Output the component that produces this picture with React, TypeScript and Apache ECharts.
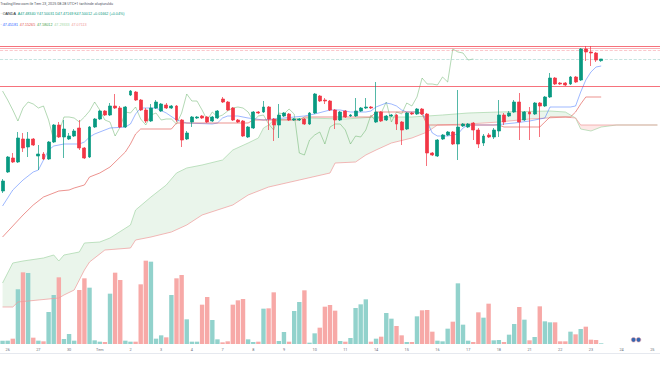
import React, { useEffect, useRef } from 'react';
import * as echarts from 'echarts';

// ---- axis / categories ----
const dayLabels = ['26', '27', '30', 'Tem', '2', '3', '4', '7', '8', '9', '10', '11', '14', '15', '16', '17', '18', '21', '22', '23', '24', '25'];
const barsPerDay = 6;
const firstDaySlot = 1;
const slotCount = 129;

// ---- 4h candles (EUR/TRY) ----
const opens = [
  46.18, 46.37, 46.51, 46.47, 46.70, 46.62, 46.70, 46.53, 46.55, 46.50,
  46.67, 46.84, 46.72, 46.70, 46.73, 46.81, 46.61, 46.52, 46.82, 46.90,
  46.98, 46.94, 47.03, 47.01, 46.82, 47.14, 47.17, 47.09, 46.99, 46.88,
  47.01, 46.98, 47.04, 47.01, 47.03, 46.89, 46.70, 46.87, 46.91, 46.93,
  46.92, 46.88, 46.91, 47.10, 47.07, 47.01, 46.89, 46.88, 46.72, 46.81,
  46.97, 46.97, 47.02, 46.90, 46.84, 46.93, 46.95, 46.89, 46.89, 46.90,
  46.85, 46.96, 47.13, 47.09, 47.08, 46.99, 46.89, 46.98, 46.93, 46.93,
  46.98, 47.01, 47.02, 46.87, 46.97, 46.89, 46.93, 46.94, 46.87, 46.80,
  46.96, 46.95, 47.00, 46.95, 46.56, 46.53, 46.70, 46.74, 46.77, 46.65,
  46.83, 46.82, 46.86, 46.79, 46.66, 46.74, 46.72, 46.78, 46.94, 46.93,
  46.97, 47.07, 46.89, 46.97, 46.95, 47.06, 47.03, 47.12, 47.31, 47.26,
  47.26, 47.25, 47.32, 47.29, 47.60, 47.57, 47.56, 47.4834,
];
const closes = [
  46.28, 46.52, 46.47, 46.71, 46.61, 46.70, 46.64, 46.55, 46.50, 46.67,
  46.84, 46.72, 46.80, 46.73, 46.78, 46.61, 46.51, 46.82, 46.90, 46.98,
  46.94, 47.03, 47.01, 46.82, 47.02, 47.18, 47.09, 46.99, 46.88, 47.01,
  47.07, 47.05, 47.01, 47.03, 46.89, 46.69, 46.76, 46.92, 46.92, 46.91,
  46.87, 46.92, 46.98, 47.07, 46.99, 46.89, 46.87, 46.73, 46.82, 46.97,
  46.96, 47.02, 46.90, 46.84, 46.94, 46.96, 46.89, 46.90, 46.90, 46.85,
  46.96, 47.15, 47.08, 47.08, 46.99, 46.89, 46.97, 46.92, 46.94, 46.98,
  47.01, 47.02, 47.01, 46.97, 46.88, 46.93, 46.94, 46.85, 46.79, 46.96,
  46.95, 47.00, 46.95, 46.56, 46.54, 46.69, 46.74, 46.77, 46.65, 46.82,
  46.85, 46.85, 46.79, 46.65, 46.73, 46.72, 46.79, 46.94, 46.87, 46.96,
  47.07, 46.87, 46.97, 46.95, 47.06, 47.03, 47.12, 47.31, 47.25, 47.25,
  47.24, 47.32, 47.27, 47.60, 47.57, 47.56, 47.49, 47.50012,
];
const highs = [
  46.30, 46.53, 46.56, 46.77, 46.76, 46.77, 46.71, 46.64, 46.57, 46.68,
  46.85, 46.87, 46.89, 46.76, 46.80, 46.89, 46.62, 46.83, 46.91, 46.99,
  46.99, 47.06, 47.15, 47.03, 47.03, 47.19, 47.18, 47.10, 47.01, 47.05,
  47.09, 47.06, 47.06, 47.04, 47.04, 46.90, 46.78, 46.93, 46.93, 46.94,
  46.93, 46.93, 46.99, 47.12, 47.08, 47.02, 46.90, 46.89, 46.83, 46.98,
  46.98, 47.08, 47.03, 46.91, 47.05, 46.97, 46.96, 46.91, 46.91, 46.91,
  46.97, 47.16, 47.14, 47.11, 47.09, 47.00, 46.98, 46.99, 46.95, 47.11,
  47.02, 47.11, 47.03, 47.27, 46.98, 46.94, 46.95, 46.95, 46.88, 46.97,
  46.97, 47.01, 47.01, 46.96, 46.57, 46.70, 46.75, 46.78, 46.78, 47.19,
  46.86, 46.86, 46.87, 46.81, 46.75, 46.76, 46.81, 47.09, 46.96, 46.98,
  47.09, 47.16, 46.98, 47.02, 47.07, 47.07, 47.13, 47.36, 47.32, 47.27,
  47.27, 47.33, 47.33, 47.61, 47.63, 47.63, 47.57, 47.50031,
];
const lows = [
  46.16, 46.36, 46.46, 46.46, 46.57, 46.52, 46.63, 46.39, 46.49, 46.49,
  46.66, 46.71, 46.51, 46.69, 46.72, 46.59, 46.50, 46.51, 46.81, 46.89,
  46.93, 46.93, 47.00, 46.81, 46.81, 47.13, 47.08, 46.98, 46.86, 46.87,
  47.00, 46.97, 47.00, 47.00, 46.87, 46.62, 46.69, 46.82, 46.90, 46.90,
  46.86, 46.87, 46.90, 47.06, 46.98, 46.88, 46.86, 46.72, 46.71, 46.80,
  46.95, 46.96, 46.79, 46.68, 46.71, 46.92, 46.88, 46.88, 46.88, 46.84,
  46.84, 46.95, 47.07, 47.05, 46.98, 46.80, 46.88, 46.91, 46.92, 46.92,
  46.97, 47.00, 47.00, 46.86, 46.87, 46.88, 46.92, 46.79, 46.64, 46.79,
  46.94, 46.94, 46.94, 46.43, 46.53, 46.52, 46.69, 46.73, 46.64, 46.49,
  46.82, 46.81, 46.69, 46.61, 46.63, 46.71, 46.70, 46.72, 46.84, 46.92,
  46.96, 46.69, 46.88, 46.69, 46.94, 46.72, 47.02, 47.11, 47.24, 47.24,
  47.23, 47.24, 47.26, 47.28, 47.48, 47.43, 47.47, 47.47169,
];
const volumes = [
  10, 10, 16, 164, 215, 213, 19, 10, 8, 96,
  147, 200, 15, 30, 10, 162, 197, 169, 11, 7,
  6, 151, 214, 192, 10, 7, 7, 179, 250, 247,
  16, 26, 20, 147, 197, 207, 74, 7, 7, 118,
  141, 72, 14, 5, 8, 118, 131, 135, 14, 6,
  7, 106, 107, 155, 9, 36, 7, 99, 126, 161,
  4, 32, 49, 112, 117, 100, 9, 7, 18, 108,
  119, 134, 7, 16, 22, 93, 76, 54, 26, 6,
  6, 83, 101, 102, 37, 10, 8, 46, 67, 182,
  58, 10, 6, 95, 79, 121, 11, 12, 6, 28,
  60, 111, 73, 11, 21, 113, 68, 65, 65, 8,
  8, 37, 29, 45, 52, 13, 12, 2,
];

// ---- Ichimoku as [bar, price] points ----
const conversionPts = [
  [0, 46.03], [2, 46.19], [4, 46.29], [6, 46.37], [7, 46.39], [8, 46.49], [9, 46.59], [10, 46.63], [12, 46.65],
  [15, 46.65], [16, 46.67], [17, 46.72], [18, 46.75], [19, 46.77], [21, 46.81], [24, 46.82], [25, 46.85],
  [26, 46.95], [27, 47.01], [30, 47.01], [32, 46.96], [34, 46.89], [36, 46.86], [41, 46.85], [42, 46.86],
  [43, 46.91], [44, 46.93], [46, 46.93], [48, 46.91], [51, 46.89], [55, 46.91], [59, 46.93], [61, 46.95],
  [64, 46.99], [66, 46.99], [68, 46.97], [71, 46.97], [72, 46.98], [73, 47.02], [75, 47.06], [76, 47.05],
  [77, 47.03], [78, 46.99], [79, 46.97], [81, 46.97], [82, 46.96], [83, 46.87], [84, 46.76], [85, 46.73],
  [87, 46.73], [89, 46.75], [90, 46.81], [91, 46.84], [96, 46.84], [100, 46.86], [103, 46.88], [106, 46.91],
  [107, 47.02], [111, 47.02], [112, 47.03], [113, 47.17], [114, 47.29], [115, 47.37], [116, 47.42], [117, 47.43],
];
const basePts = [
  [0, 45.72], [2, 45.83], [4, 45.94], [6, 46.04], [8, 46.12], [11, 46.18], [13, 46.19], [14, 46.21], [16, 46.24],
  [17, 46.32], [19, 46.36], [21, 46.42], [23, 46.52], [24, 46.57], [25, 46.65], [26, 46.75], [27, 46.80],
  [33, 46.80], [34, 46.86], [48, 46.86], [49, 46.89], [58, 46.89], [59, 46.92], [72, 46.92], [73, 46.97],
  [81, 46.97], [82, 46.95], [83, 46.84], [97, 46.84], [98, 46.82], [105, 46.82], [106, 46.87], [107, 46.92],
  [111, 46.92], [112, 46.97], [113, 47.05], [114, 47.12], [117, 47.12],
];
const leadAPts = [
  [0, 45.26], [2, 45.46], [4, 45.48], [8, 45.51], [10, 45.54], [11, 45.48], [12, 45.54], [15, 45.57], [16, 45.66],
  [19, 45.67], [21, 45.71], [25, 45.84], [26, 45.99], [29, 46.12], [32, 46.24], [34, 46.36], [36, 46.41],
  [39, 46.44], [43, 46.49], [45, 46.59], [48, 46.66], [50, 46.71], [51, 46.81], [52, 46.84], [53, 46.89],
  [59, 46.91], [67, 46.90], [73, 46.92], [80, 46.92], [86, 46.94], [91, 46.96], [97, 46.97], [107, 46.98],
  [110, 46.97], [112, 46.91], [113, 46.80], [115, 46.78], [117, 46.82], [120, 46.84], [128, 46.84],
];
const leadBPts = [
  [0, 45.02], [2, 45.02], [3, 45.07], [11, 45.11], [12, 45.14], [14, 45.19], [16, 45.39], [17, 45.47], [20, 45.59],
  [25, 45.61], [26, 45.69], [29, 45.72], [33, 45.77], [36, 45.84], [39, 45.94], [45, 46.04], [48, 46.14],
  [52, 46.22], [58, 46.29], [64, 46.36], [65, 46.46], [69, 46.47], [71, 46.54], [73, 46.59], [76, 46.66],
  [80, 46.71], [83, 46.77], [85, 46.84], [91, 46.85], [97, 46.87], [103, 46.90], [110, 46.92], [112, 46.91],
  [113, 46.84], [128, 46.84],
];
const twistBar = 112;
const laggingShift = 25;

// ---- horizontal levels ----
const levelPrices = [47.635, 47.614, 47.585, 47.225];

// ---- legend texts ----
const headerText = 'TradingView.com ile Tem 23, 2025 08:28 UTC+1 tarihinde oluşturuldu';
const ohlcLabels = ['A', 'Y', 'D', 'K'];
const ohlcValues = ['47.48340', '47.50031', '47.47169', '47.50012'];
const changeText = '+0.01662 (+0.04%)';
const ichimokuValues = ['47.45181', '47.15265', '47.58012', '47.29333', '47.07113'];

const UP = '#089981';
const DOWN = '#f23645';
const VOL_UP = '#92d2cc';
const VOL_DOWN = '#f7a9a7';

export default function App() {
  const ref = useRef<HTMLDivElement>(null);

  useEffect(() => {
    if (!ref.current) return;
    const chart = echarts.init(ref.current, undefined, { renderer: 'svg' });

    const categories: string[] = [];
    for (let s = 0; s < slotCount; s++) {
      const k = s - firstDaySlot;
      if (k >= 0 && k % barsPerDay === 0 && k / barsPerDay < dayLabels.length) {
        categories.push(dayLabels[k / barsPerDay]);
      } else {
        categories.push('b' + s);
      }
    }

    const candleData = opens.map((o, i) => [o, closes[i], lows[i], highs[i]]);
    const volData = volumes.map((v, i) => ({
      value: v,
      itemStyle: { color: closes[i] >= opens[i] ? VOL_UP : VOL_DOWN },
    }));
    const lagging = categories.map((_, i) =>
      i + laggingShift < closes.length ? closes[i + laggingShift] : '-'
    );
    const lastClose = closes[closes.length - 1];

    const levelStyles = [
      { color: DOWN, width: 1, type: 'solid', opacity: 0.7 },
      { color: DOWN, width: 0.8, type: 'solid', opacity: 0.5 },
      { color: DOWN, width: 0.8, type: 'dashed', opacity: 0.35 },
      { color: DOWN, width: 1, type: 'solid', opacity: 0.7 },
    ];

    const gridLeft = -2;
    const gridWidth = 662.7;

    const option: any = {
      animation: false,
      backgroundColor: '#ffffff',
      textStyle: { fontFamily: 'Roboto, sans-serif' },
      grid: [
        { left: gridLeft, width: gridWidth, top: 0, height: 365 },
        { left: gridLeft, width: gridWidth, bottom: 21, height: 120 },
      ],
      xAxis: [
        {
          type: 'category', gridIndex: 0, data: categories, boundaryGap: true,
          axisLine: { show: false }, axisTick: { show: false }, axisLabel: { show: false },
          splitLine: { show: false },
        },
        {
          type: 'category', gridIndex: 1, data: categories, boundaryGap: true,
          axisLine: { show: false }, axisTick: { show: false }, splitLine: { show: false },
          axisLabel: {
            show: true,
            interval: (idx: number) => idx >= firstDaySlot && (idx - firstDaySlot) % barsPerDay === 0,
            formatter: (v: string) => (v.startsWith('b') ? '' : v),
            fontSize: 3.8, color: '#6a6d78', margin: 3,
          },
        },
      ],
      yAxis: [
        { type: 'value', gridIndex: 0, min: 44.44, max: 48.09, show: false, splitLine: { show: false } },
        { type: 'value', gridIndex: 1, min: 0, max: 360, show: false, splitLine: { show: false } },
      ],
      series: [
        {
          type: 'custom', name: 'cloud', xAxisIndex: 0, yAxisIndex: 0, z: 1, silent: true,
          data: [[0, 46]],
          renderItem: (_params: any, api: any) => {
            const toPts = (pts: number[][]) => pts.map((p) => api.coord([p[0], p[1]]));
            const aG = leadAPts.filter((p) => p[0] <= twistBar);
            const bG = leadBPts.filter((p) => p[0] <= twistBar).reverse();
            const aR = leadAPts.filter((p) => p[0] >= twistBar);
            const bR = leadBPts.filter((p) => p[0] >= twistBar).reverse();
            return {
              type: 'group',
              children: [
                { type: 'polygon', shape: { points: toPts([...aG, ...bG]) }, style: { fill: 'rgba(67,160,71,0.11)' } },
                { type: 'polygon', shape: { points: toPts([...aR, ...bR]) }, style: { fill: 'rgba(244,67,54,0.12)' } },
              ],
            };
          },
        },
        {
          type: 'line', name: 'Öncü A', data: leadAPts, symbol: 'none', z: 2, silent: true,
          lineStyle: { color: '#a5d6a7', width: 0.7 },
        },
        {
          type: 'line', name: 'Öncü B', data: leadBPts, symbol: 'none', z: 2, silent: true,
          lineStyle: { color: '#ef9a9a', width: 0.7 },
        },
        {
          type: 'line', name: 'Gecikmeli', data: lagging, symbol: 'none', z: 3, silent: true,
          lineStyle: { color: '#43a047', width: 0.8, opacity: 0.5 },
        },
        {
          type: 'line', name: 'Dönüşüm', data: conversionPts, symbol: 'none', z: 3, silent: true,
          lineStyle: { color: '#2962ff', width: 0.9, opacity: 0.5 },
        },
        {
          type: 'line', name: 'Temel', data: basePts, symbol: 'none', z: 3, silent: true,
          lineStyle: { color: '#e0534c', width: 0.9, opacity: 0.7 },
        },
        {
          type: 'candlestick', name: 'EURTRY', data: candleData, z: 5, barWidth: 3.4,
          itemStyle: { color: UP, color0: DOWN, borderColor: UP, borderColor0: DOWN, borderWidth: 0.7 },
          markLine: {
            silent: true, symbol: ['none', 'none'], label: { show: false },
            data: [
              ...levelPrices.map((p, k) => ({ yAxis: p, lineStyle: levelStyles[k] })),
              { yAxis: lastClose, lineStyle: { color: '#9ccfc8', width: 0.8, type: 'dashed', opacity: 0.7 } },
            ],
          },
        },
        {
          type: 'bar', name: 'Hacim', xAxisIndex: 1, yAxisIndex: 1, data: volData, barWidth: 4.4, z: 2, silent: true,
        },
      ],
      graphic: [
        {
          type: 'text', x: 0.3, y: 4.3,
          style: { text: headerText, fontSize: 3.7, fill: '#50535e', verticalAlign: 'middle', fontFamily: 'Roboto, sans-serif' },
        },
        {
          type: 'text', x: 0.5, y: 14,
          style: {
            text: '{d|· OANDA}  ' + ohlcLabels.map((l, i) => '{v|' + l + ohlcValues[i] + '}').join(' ') + ' {v|' + changeText + '}',
            fontSize: 3.7, verticalAlign: 'middle', fontFamily: 'Roboto, sans-serif',
            rich: {
              d: { fill: '#131722', fontSize: 3.7 },
              v: { fill: UP, fontSize: 3.7 },
            },
          },
        },
        {
          type: 'text', x: 0.5, y: 24.5,
          style: {
            text: '{d|·} {a|' + ichimokuValues[0] + '}  {b|' + ichimokuValues[1] + '}  {c|' + ichimokuValues[2] + '}  {e|' + ichimokuValues[3] + '}  {f|' + ichimokuValues[4] + '}',
            fontSize: 3.7, verticalAlign: 'middle', fontFamily: 'Roboto, sans-serif',
            rich: {
              d: { fill: '#131722', fontSize: 3.7 },
              a: { fill: '#2962ff', fontSize: 3.7 },
              b: { fill: '#e0534c', fontSize: 3.7 },
              c: { fill: '#43a047', fontSize: 3.7 },
              e: { fill: '#a5d6a7', fontSize: 3.7 },
              f: { fill: '#ef9a9a', fontSize: 3.7 },
            },
          },
        },
        {
          type: 'line', shape: { x1: 0, y1: 353.5, x2: 660, y2: 353.5 },
          style: { stroke: '#e0e3eb', lineWidth: 0.8 }, silent: true,
        },
        {
          type: 'circle', shape: { cx: 633.5, cy: 339.8, r: 2.3 },
          style: { fill: '#3567b0', stroke: '#f4a3a8', lineWidth: 0.6 }, silent: true,
        },
        {
          type: 'circle', shape: { cx: 638.6, cy: 339.8, r: 2.3 },
          style: { fill: '#3567b0', stroke: '#f4a3a8', lineWidth: 0.6 }, silent: true,
        },
      ],
    };

    chart.setOption(option);
    return () => chart.dispose();
  }, []);

  return (
    <div
      ref={ref}
      style={{ position: 'fixed', left: 0, top: 0, width: 660, height: 365, background: '#fff' }}
    />
  );
}
